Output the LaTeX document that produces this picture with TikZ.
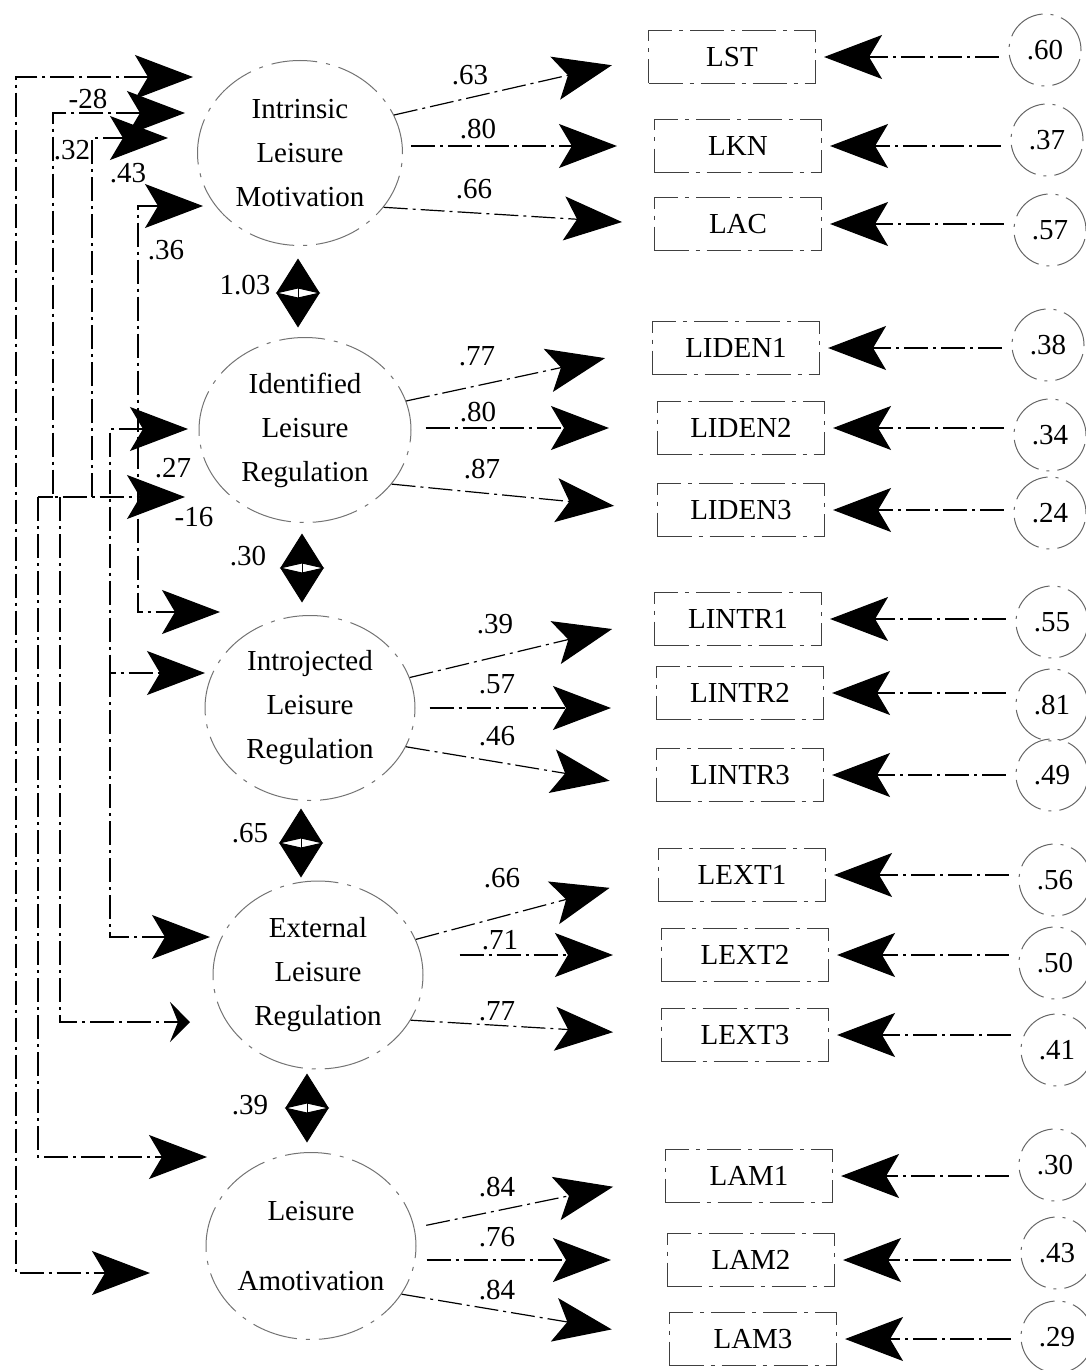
\documentclass[tikz,border=0pt]{standalone}
\usepackage{fontspec}
\setmainfont{Liberation Serif}
\usetikzlibrary{arrows.meta,shapes.geometric,calc}

\begin{document}
\begin{tikzpicture}[x=1pt,y=-1pt,
  every node/.style={font=\fontsize{29}{44}\selectfont},
  lat/.style={ellipse, draw=black!55, line width=1pt,
    dash pattern=on 46pt off 9pt on 4pt off 9pt, inner sep=0pt, align=center},
  obs/.style={rectangle, draw=black!75, line width=1.1pt,
    dash pattern=on 34pt off 7pt on 4pt off 7pt,
    minimum width=167pt, minimum height=53pt, inner sep=0pt},
  err/.style={circle, draw=black!60, line width=1pt,
    dash pattern=on 40pt off 8pt on 3pt off 8pt,
    minimum size=72pt, inner sep=0pt},
  lnk/.style={draw=black, line width=1.2pt,
    dash pattern=on 24pt off 5pt on 3pt off 5pt},
  hd/.style={-{Stealth[length=58pt,width=44pt,inset=13pt]}},
  hh/.style={{Stealth[length=58pt,width=44pt,inset=13pt]}-{Stealth[length=58pt,width=44pt,inset=13pt]}},
  hs/.style={-{Stealth[length=20pt,width=40pt,inset=8pt]}},
  dia/.style={{Stealth[length=35pt,width=44pt,inset=5pt]}-{Stealth[length=35pt,width=44pt,inset=5pt]},
    line width=1pt},
  num/.style={inner sep=0pt}
]
\useasboundingbox (0,0) rectangle (1086,1370);

% latent factors
\node[lat, minimum width=205pt, minimum height=185pt] (e1) at (300,153) {Intrinsic\\Leisure\\Motivation};
\node[lat, minimum width=212pt, minimum height=185pt] (e2) at (305,430) {Identified\\Leisure\\Regulation};
\node[lat, minimum width=210pt, minimum height=185pt] (e3) at (310,708) {Introjected\\Leisure\\Regulation};
\node[lat, minimum width=210pt, minimum height=188pt] (e4) at (318,975) {External\\Leisure\\Regulation};
\node[lat, minimum width=210pt, minimum height=187pt] (e5) at (311,1246) {Leisure\\[26pt]Amotivation};

% indicators
\node[obs] (b1)  at (732,57)   {LST};
\node[obs] (b2)  at (738,146)  {LKN};
\node[obs] (b3)  at (738,224)  {LAC};
\node[obs] (b4)  at (736,348)  {LIDEN1};
\node[obs] (b5)  at (741,428)  {LIDEN2};
\node[obs] (b6)  at (741,510)  {LIDEN3};
\node[obs] (b7)  at (738,619)  {LINTR1};
\node[obs] (b8)  at (740,693)  {LINTR2};
\node[obs] (b9)  at (740,775)  {LINTR3};
\node[obs] (b10) at (742,875)  {LEXT1};
\node[obs] (b11) at (745,955)  {LEXT2};
\node[obs] (b12) at (745,1035) {LEXT3};
\node[obs] (b13) at (749,1176) {LAM1};
\node[obs] (b14) at (751,1260) {LAM2};
\node[obs] (b15) at (753,1339) {LAM3};

% error terms
\node[err] (c1)  at (1045,50)   {.60};
\node[err] (c2)  at (1047,140)  {.37};
\node[err] (c3)  at (1050,230)  {.57};
\node[err] (c4)  at (1048,345)  {.38};
\node[err] (c5)  at (1050,435)  {.34};
\node[err] (c6)  at (1050,513)  {.24};
\node[err] (c7)  at (1052,622)  {.55};
\node[err] (c8)  at (1052,705)  {.81};
\node[err] (c9)  at (1052,775)  {.49};
\node[err] (c10) at (1055,880)  {.56};
\node[err] (c11) at (1055,963)  {.50};
\node[err] (c12) at (1057,1050) {.41};
\node[err] (c13) at (1055,1165) {.30};
\node[err] (c14) at (1057,1253) {.43};
\node[err] (c15) at (1057,1337) {.29};

% error arrows
\foreach \i in {1,...,15}
  \draw[lnk, hd, shorten <=10pt, shorten >=8pt] (c\i.west |- b\i) -- (b\i.east);

% loadings
\draw[lnk, hd, shorten >=37pt] (e1.22) -- (b1.west);
\draw[lnk, hd, shorten <=8pt, shorten >=37pt] (e1.east |- b2.west) -- (b2.west);
\draw[lnk, hd, shorten >=32pt] (e1.-33) -- (b3.west);
\draw[lnk, hd, shorten >=48pt] (e2.16) -- (b4.west);
\draw[lnk, hd, shorten <=14pt, shorten >=48pt] (e2.east |- b5.west) -- (b5.west);
\draw[lnk, hd, shorten >=43pt] (e2.-32) -- (b6.west);
\draw[lnk, hd, shorten >=43pt] (e3.17) -- (b7.west);
\draw[lnk, hd, shorten <=14pt, shorten >=45pt] (e3.east) -- (e3.east -| b8.west);
\draw[lnk, hd, shorten >=47pt] (e3.-22) -- ($(b9.west)!0.5!(b9.south west)$);
\draw[lnk, hd, shorten >=50pt] (e4.20) -- (b10.west);
\draw[lnk, hd, shorten <=36pt, shorten >=48pt] (e4.east |- b11.west) -- (b11.west);
\draw[lnk, hd, shorten >=48pt] (e4.-26) -- (b12.west);
\draw[lnk, hd, shorten <=12pt, shorten >=53pt] (e5.10) -- (b13.west);
\draw[lnk, hd, shorten <=10pt, shorten >=56pt] (e5.east |- b14.west) -- (b14.west);
\draw[lnk, hd, shorten >=58pt] (e5.-28) -- (b15.west);

\node[num] at (470,75)   {.63};
\node[num] at (478,129)  {.80};
\node[num] at (474,189)  {.66};
\node[num] at (477,356)  {.77};
\node[num] at (478,412)  {.80};
\node[num] at (482,469)  {.87};
\node[num] at (495,624)  {.39};
\node[num] at (497,684)  {.57};
\node[num] at (497,736)  {.46};
\node[num] at (502,878)  {.66};
\node[num] at (500,940)  {.71};
\node[num] at (497,1011) {.77};
\node[num] at (497,1187) {.84};
\node[num] at (497,1237) {.76};
\node[num] at (497,1290) {.84};

% factor covariances
\coordinate (d1) at (298,0);
\coordinate (d2) at (302,0);
\coordinate (d3) at (301,0);
\coordinate (d4) at (307,0);
\draw[dia, shorten <=12.5pt, shorten >=9.5pt] (d1 |- e1.south) -- (d1 |- e2.north);
\draw[dia, shorten <=10.5pt, shorten >=12.5pt] (d2 |- e2.south) -- (d2 |- e3.north);
\draw[dia, shorten <=7.5pt, shorten >=3pt] (d3 |- e3.south) -- (d3 |- e4.north);
\draw[dia, shorten <=4pt, shorten >=9.5pt] (d4 |- e4.south) -- (d4 |- e5.north);
\node[num] at (245,285)  {1.03};
\node[num] at (248,556)  {.30};
\node[num] at (250,833)  {.65};
\node[num] at (250,1105) {.39};

% incoming paths on the left
\coordinate (t1)  at (193,77);
\coordinate (t2)  at (185,113);
\coordinate (t3)  at (168,138);
\coordinate (t4)  at (203,206);
\coordinate (t5)  at (188,429);
\coordinate (t6)  at (185,497);
\coordinate (t7)  at (220,612);
\coordinate (t8)  at (205,673);
\coordinate (t9)  at (210,937);
\coordinate (t10) at (190,1022);
\coordinate (t11) at (207,1157);
\coordinate (t12) at (150,1273);
\coordinate (v1) at (16,0);
\coordinate (v2) at (53,0);
\coordinate (v3) at (92,0);
\coordinate (v4) at (110,0);
\coordinate (v5) at (138,0);
\coordinate (v6) at (38,0);
\coordinate (v7) at (60,0);

\draw[lnk, hh] (t1) -- (t1 -| v1) -- (t12 -| v1) -- (t12);
\draw[lnk, hh] (t2) -- (t2 -| v2) -- (t6 -| v2) -- (t6);
\draw[lnk, hd] (t6 -| v3) -- (t3 -| v3) -- (t3);
\draw[lnk, hh] (t4) -- (t4 -| v5) -- (t7 -| v5) -- (t7);
\draw[lnk, hh] (t5) -- (t5 -| v4) -- (t8 -| v4) -- (t8);
\draw[lnk, hd] (t8 -| v4) -- (t9 -| v4) -- (t9);
\draw[lnk] (t6 -| v6) -- (t6 -| v2);
\draw[lnk, hd] (t6 -| v6) -- (t11 -| v6) -- (t11);
\draw[lnk, hs] (t6 -| v7) -- (t10 -| v7) -- (t10);

\node[num] at (88,99)   {-28};
\node[num] at (72,150)  {.32};
\node[num] at (128,173) {.43};
\node[num] at (166,250) {.36};
\node[num] at (173,468) {.27};
\node[num] at (194,517) {-16};
\end{tikzpicture}
\end{document}
